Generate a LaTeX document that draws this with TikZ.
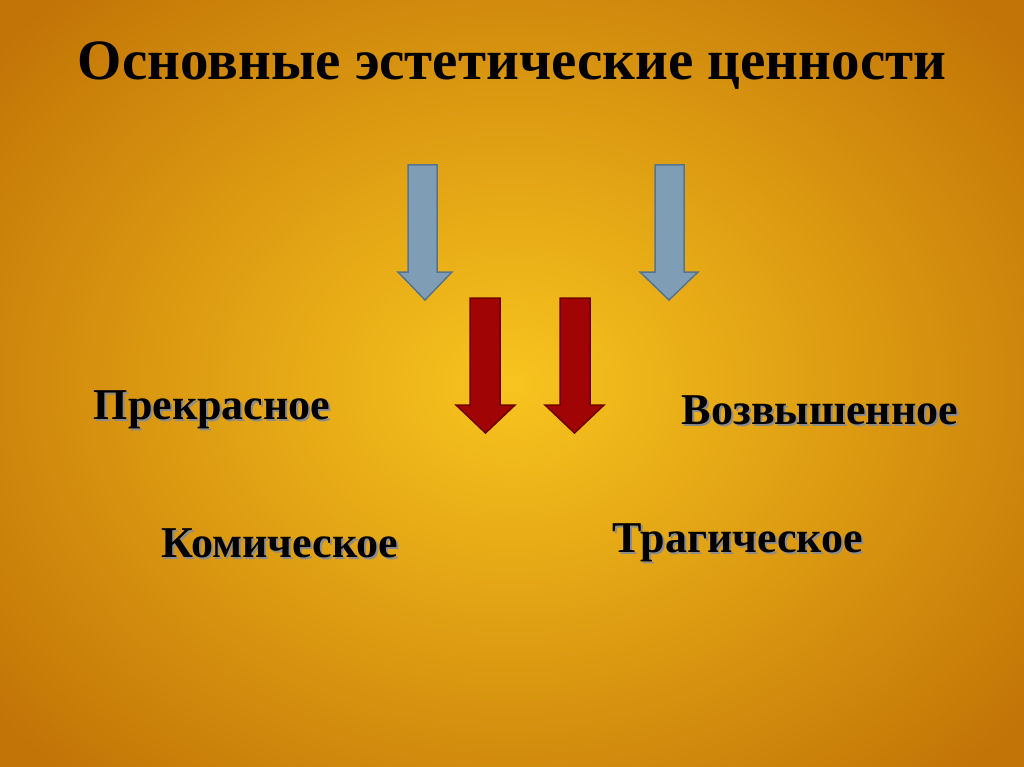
\documentclass[tikz,border=0pt]{standalone}
\usepackage{fontspec}
\setmainfont{Liberation Serif}
\definecolor{bgin}{HTML}{F8C41E}
\definecolor{bgout}{HTML}{C27406}
\definecolor{grayfill}{HTML}{7F9DB5}
\definecolor{graydraw}{HTML}{56748E}
\definecolor{redfill}{HTML}{A00404}
\definecolor{reddraw}{HTML}{6E0000}
\begin{document}
\begin{tikzpicture}[x=1pt,y=-1pt,
  lbl/.style={font=\bfseries\fontsize{44}{50}\selectfont, text=black},
  shd/.style={font=\bfseries\fontsize{44}{50}\selectfont, text=black!45}]
\useasboundingbox (0,0) rectangle (1024,767);
\shade[inner color=bgin, outer color=bgout] (-150,-150) rectangle (1174,917);
\node[font=\bfseries\fontsize{57}{64}\selectfont] (title) at (512,66) {Основные эстетические ценности};
\newcommand{\darrow}[7]{% x1 x2 shaftL shaftR top headY tip
  \draw[#7] (#3,#5) -- (#4,#5) -- (#4,#6) -- (#2,#6) -- ({(#1+#2)/2},{#6+28}) -- (#1,#6) -- (#3,#6) -- cycle;}
\darrow{398}{452}{408}{437}{165}{272}{fill=grayfill,draw=graydraw,line width=1.5pt}
\darrow{640}{698}{655}{684}{165}{272}{fill=grayfill,draw=graydraw,line width=1.5pt}
\darrow{456}{515}{470}{500}{298}{405}{fill=redfill,draw=reddraw,line width=1.5pt}
\darrow{545}{604}{560}{590}{298}{405}{fill=redfill,draw=reddraw,line width=1.5pt}
\foreach \t/\x/\y/\n in {Прекрасное/212/410/a,Возвышенное/820/410/b,Комическое/280/543/c,Трагическое/738/543/d}{
  \node[shd] at (\x+2,\y+2) {\t};
  \node[lbl] (\n) at (\x,\y) {\t};}
\end{tikzpicture}
\end{document}
